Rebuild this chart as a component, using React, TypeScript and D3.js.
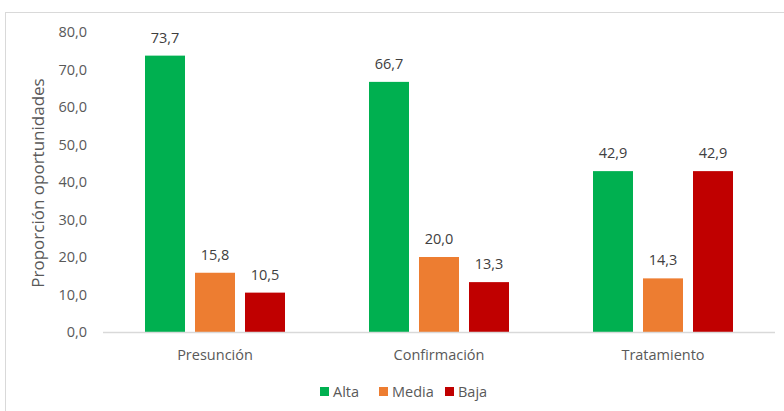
import * as d3 from "d3";

const categories = ["Presunción", "Confirmación", "Tratamiento"];
const seriesNames = ["Alta", "Media", "Baja"];
const alta = [73.7, 66.7, 42.9];
const media = [15.8, 20.0, 14.3];
const baja = [10.5, 13.3, 42.9];
const yTicks = [0, 10, 20, 30, 40, 50, 60, 70, 80];
const colors = ["#00b050", "#ed7d31", "#c00000"];

const W = 784;
const H = 411;
const FONT = "'Open Sans', sans-serif";

export default function App() {
  const values = [alta, media, baja];
  const x = d3.scaleBand<string>().domain(categories).range([103, 775]);
  const xs = d3
    .scaleBand<string>()
    .domain(seriesNames)
    .range([42, x.bandwidth() - 42])
    .paddingInner(0.2);
  const y = d3.scaleLinear().domain([0, 80]).range([332, 32]);
  const fmt = (v: number) => v.toFixed(1).replace(".", ",");

  // legend layout
  const legendX = [320, 379, 445];
  const legendY = 392;

  return (
    <svg
      width={W}
      height={H}
      style={{ position: "absolute", left: 0, top: 0, background: "#fff" }}
      fontFamily={FONT}
    >
      <rect x={5.5} y={12.5} width={W + 10} height={H + 10} fill="#fff" stroke="#d9d9d9" />

      {/* y ticks */}
      {yTicks.map((t) => (
        <text
          key={t}
          x={87}
          y={y(t)}
          dy="0.35em"
          textAnchor="end"
          fontSize={14.5}
          fill="#595959"
        >
          {fmt(t)}
        </text>
      ))}

      <text
        transform={`translate(38,183) rotate(-90)`}
        textAnchor="middle"
        dy="0.35em"
        fontSize={17}
        fill="#595959"
      >
        Proporción oportunidades
      </text>

      {/* bars */}
      {categories.map((c, ci) => (
        <g key={c} transform={`translate(${x(c)},0)`}>
          {seriesNames.map((s, si) => {
            const v = values[si][ci];
            const bx = xs(s)!;
            return (
              <g key={s}>
                <rect
                  x={bx}
                  y={y(v)}
                  width={xs.bandwidth()}
                  height={y(0) - y(v)}
                  fill={colors[si]}
                />
                <text
                  x={bx + xs.bandwidth() / 2}
                  y={y(v) - 18}
                  dy="0.35em"
                  textAnchor="middle"
                  fontSize={14.5}
                  fill="#404040"
                >
                  {fmt(v)}
                </text>
              </g>
            );
          })}
          <text
            x={x.bandwidth() / 2}
            y={355}
            dy="0.35em"
            textAnchor="middle"
            fontSize={14.5}
            fill="#595959"
          >
            {c}
          </text>
        </g>
      ))}

      {/* baseline */}
      <line x1={103} x2={775} y1={y(0) + 0.5} y2={y(0) + 0.5} stroke="#d9d9d9" strokeWidth={1.5} />

      {/* legend */}
      {seriesNames.map((s, i) => (
        <g key={s}>
          <rect x={legendX[i]} y={legendY - 5} width={9} height={9} fill={colors[i]} />
          <text
            x={legendX[i] + 13}
            y={legendY}
            dy="0.35em"
            fontSize={14.5}
            fill="#595959"
          >
            {s}
          </text>
        </g>
      ))}
    </svg>
  );
}
